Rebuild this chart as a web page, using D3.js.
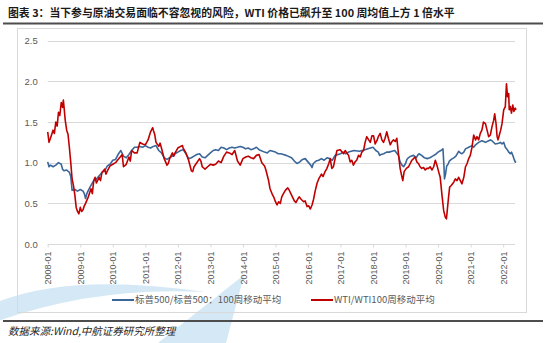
<!DOCTYPE html>
<html>
<head>
<meta charset="utf-8">
<script src="https://cdn.jsdelivr.net/npm/d3@7/dist/d3.min.js"></script>
<style>
  html, body { margin: 0; padding: 0; background: #ffffff; }
  svg { display: block; }
</style>
</head>
<body>
<svg id="chart" width="550" height="343"></svg>
<script>
// WTI / WTI 100-week moving average
const wtiDates = [
  "2008-01-01","2008-01-16","2008-02-01","2008-03-01","2008-03-16","2008-04-01","2008-04-16","2008-05-01","2008-05-16","2008-06-01",
  "2008-06-16","2008-06-25","2008-07-01","2008-07-16","2008-08-01","2008-08-16","2008-09-01","2008-09-16","2008-10-01","2008-10-16",
  "2008-11-01","2008-11-16","2008-12-01","2008-12-16","2009-01-01","2009-01-16","2009-02-01","2009-02-15","2009-03-01","2009-04-01",
  "2009-05-01","2009-05-16","2009-06-01","2009-06-16","2009-07-01","2009-08-01","2009-08-16","2009-09-01","2009-10-01","2009-10-16",
  "2009-11-01","2009-12-01","2010-01-01","2010-02-01","2010-03-01","2010-04-01","2010-04-16","2010-05-01","2010-06-01","2010-07-01",
  "2010-07-16","2010-08-01","2010-09-01","2010-10-01","2010-11-01","2010-12-01","2011-01-01","2011-02-01","2011-03-01","2011-03-25",
  "2011-04-01","2011-04-16","2011-05-01","2011-06-01","2011-06-16","2011-07-01","2011-08-01","2011-09-01","2011-09-16","2011-10-01",
  "2011-11-01","2011-11-16","2011-12-01","2012-01-01","2012-02-01","2012-02-22","2012-03-01","2012-04-01","2012-05-01","2012-06-01",
  "2012-06-16","2012-07-01","2012-08-01","2012-09-01","2012-09-16","2012-10-01","2012-11-01","2012-12-01","2013-01-01","2013-02-01",
  "2013-03-01","2013-04-01","2013-05-01","2013-06-01","2013-07-01","2013-08-01","2013-09-01","2013-10-01","2013-11-01","2013-12-01",
  "2014-01-01","2014-02-01","2014-03-01","2014-04-01","2014-05-01","2014-06-01","2014-07-01","2014-08-01","2014-09-01","2014-09-16",
  "2014-10-16","2014-11-01","2014-12-01","2014-12-16","2015-01-01","2015-01-19","2015-02-07","2015-02-25","2015-03-13","2015-04-01",
  "2015-04-22","2015-05-19","2015-06-01","2015-07-01","2015-08-01","2015-08-19","2015-09-07","2015-09-25","2015-10-16","2015-11-13",
  "2015-12-01","2015-12-22","2016-01-10","2016-01-28","2016-02-16","2016-03-04","2016-03-22","2016-04-13","2016-05-01","2016-06-01",
  "2016-06-19","2016-07-07","2016-08-01","2016-08-22","2016-09-07","2016-09-25","2016-10-13","2016-11-01","2016-11-22","2016-12-28",
  "2017-02-04","2017-02-22","2017-04-01","2017-04-19","2017-05-07","2017-05-25","2017-06-13","2017-07-01","2017-07-22","2017-08-10",
  "2017-08-28","2017-09-16","2017-10-04","2017-10-22","2017-11-13","2017-12-01","2017-12-19","2018-01-07","2018-01-25","2018-02-13",
  "2018-03-01","2018-03-22","2018-04-10","2018-04-28","2018-05-16","2018-06-04","2018-06-22","2018-07-13","2018-08-01","2018-08-19",
  "2018-09-07","2018-09-25","2018-10-13","2018-11-01","2018-11-22","2018-12-01","2018-12-16","2019-01-10","2019-02-04","2019-02-22",
  "2019-03-13","2019-04-01","2019-04-19","2019-05-07","2019-05-25","2019-06-13","2019-07-01","2019-07-22","2019-08-10","2019-08-28",
  "2019-09-16","2019-10-04","2019-10-25","2019-11-13","2019-12-01","2019-12-19","2020-01-07","2020-01-25","2020-02-16","2020-03-04",
  "2020-03-22","2020-04-04","2020-04-13","2020-04-28","2020-05-10","2020-05-28","2020-06-25","2020-07-13","2020-08-01","2020-08-19",
  "2020-09-07","2020-09-25","2020-10-16","2020-11-04","2020-11-22","2020-12-10","2020-12-28","2021-01-16","2021-02-04","2021-02-25",
  "2021-03-13","2021-04-01","2021-04-19","2021-05-07","2021-05-25","2021-06-16","2021-07-04","2021-07-22","2021-08-10","2021-08-28",
  "2021-09-16","2021-09-28","2021-10-13","2021-10-25","2021-11-04","2021-11-19","2021-12-04","2021-12-19","2022-01-07","2022-01-25",
  "2022-02-07","2022-02-19","2022-03-04","2022-03-10","2022-03-22","2022-04-04","2022-04-19","2022-05-01","2022-05-16","2022-05-25"
];
const wtiRatio = [
  1.38,1.25,1.30,1.40,1.36,1.50,1.45,1.62,1.58,1.74,
  1.68,1.77,1.70,1.52,1.40,1.35,1.18,1.00,0.80,0.72,
  0.60,0.45,0.40,0.37,0.45,0.40,0.42,0.47,0.50,0.58,
  0.68,0.62,0.78,0.82,0.75,0.82,0.78,0.88,0.92,0.86,
  0.90,0.96,0.98,1.00,1.04,1.08,1.10,0.95,0.98,1.07,
  1.02,1.15,1.12,1.12,1.25,1.23,1.22,1.28,1.38,1.43,
  1.40,1.35,1.25,1.20,1.24,1.18,1.05,0.97,0.99,1.05,
  1.12,1.08,1.12,1.18,1.20,1.21,1.18,1.12,1.03,0.90,
  0.89,0.95,1.00,1.05,1.02,0.95,0.92,0.95,0.98,0.97,
  0.98,1.02,1.00,1.08,1.13,1.12,1.10,1.15,1.02,0.97,
  1.05,1.07,1.08,1.06,1.05,1.09,1.10,1.00,0.96,0.91,
  0.78,0.68,0.60,0.57,0.52,0.48,0.52,0.50,0.58,0.62,
  0.66,0.69,0.67,0.60,0.53,0.51,0.55,0.58,0.55,0.52,
  0.53,0.46,0.47,0.43,0.48,0.55,0.65,0.75,0.80,0.86,
  0.83,0.88,0.93,0.99,1.05,0.93,0.95,1.05,1.15,1.16,
  1.11,1.15,1.09,1.01,1.03,0.97,1.01,1.03,1.09,1.07,
  1.13,1.15,1.25,1.32,1.28,1.25,1.33,1.33,1.23,1.27,
  1.32,1.36,1.28,1.25,1.30,1.38,1.30,1.22,1.26,1.28,
  1.26,1.30,1.11,0.93,0.82,0.78,0.89,0.93,0.95,0.99,
  1.03,1.05,1.07,1.01,0.99,0.95,0.93,0.94,0.91,0.93,
  0.93,0.95,0.91,0.95,1.03,0.97,0.89,0.82,0.58,0.41,
  0.33,0.31,0.41,0.58,0.70,0.72,0.76,0.80,0.78,0.82,
  0.78,0.74,0.82,0.95,0.99,1.05,1.09,1.19,1.34,1.28,
  1.32,1.28,1.36,1.40,1.50,1.48,1.40,1.32,1.34,1.44,
  1.52,1.60,1.48,1.32,1.28,1.34,1.40,1.48,1.65,1.69,
  1.97,1.81,1.85,1.65,1.69,1.61,1.71,1.63,1.67,1.65
];

// S&P 500 / S&P 500 100-week moving average
const spxDates = [
  "2008-01-01","2008-01-16","2008-02-01","2008-03-01","2008-04-01","2008-05-01","2008-06-01","2008-06-16","2008-07-01","2008-08-01",
  "2008-09-01","2008-09-16","2008-10-01","2008-11-01","2008-12-01","2009-01-01","2009-02-01","2009-02-15","2009-03-01","2009-03-16",
  "2009-04-01","2009-05-01","2009-06-01","2009-07-01","2009-08-01","2009-09-01","2009-10-01","2009-11-01","2009-12-01","2010-01-01",
  "2010-02-01","2010-03-01","2010-04-01","2010-05-01","2010-06-01","2010-07-01","2010-08-01","2010-09-01","2010-10-01","2010-11-01",
  "2010-12-01","2011-01-01","2011-02-01","2011-03-01","2011-04-01","2011-05-01","2011-06-01","2011-07-01","2011-08-01","2011-09-01",
  "2011-10-01","2011-11-01","2011-12-01","2012-01-01","2012-02-01","2012-03-01","2012-04-01","2012-05-01","2012-06-01","2012-07-01",
  "2012-08-01","2012-09-01","2012-10-01","2012-11-01","2012-12-01","2013-01-01","2013-02-01","2013-03-01","2013-04-01","2013-05-01",
  "2013-06-01","2013-07-01","2013-08-01","2013-09-01","2013-10-01","2013-11-01","2013-12-01","2014-01-01","2014-02-01","2014-03-01",
  "2014-04-01","2014-05-01","2014-06-01","2014-07-01","2014-09-01","2014-10-01","2014-11-01","2015-01-01","2015-02-01","2015-03-01",
  "2015-04-01","2015-05-01","2015-07-01","2015-08-01","2015-09-01","2015-10-01","2015-11-01","2015-12-01","2016-01-01","2016-02-01",
  "2016-02-16","2016-03-01","2016-04-01","2016-05-01","2016-06-01","2016-07-01","2016-08-01","2016-09-01","2016-10-01","2016-11-01",
  "2017-01-01","2017-02-01","2017-03-01","2017-04-01","2017-06-01","2017-08-01","2017-09-01","2017-10-01","2017-12-01","2018-01-01",
  "2018-02-01","2018-03-01","2018-03-16","2018-04-01","2018-05-01","2018-06-01","2018-07-01","2018-08-01","2018-09-01","2018-10-13",
  "2018-11-01","2018-11-22","2018-12-10","2019-01-01","2019-01-16","2019-02-01","2019-03-01","2019-04-01","2019-05-01","2019-05-16",
  "2019-06-01","2019-07-01","2019-08-01","2019-09-01","2019-10-01","2019-11-01","2019-12-01","2020-01-01","2020-02-01","2020-02-16",
  "2020-02-25","2020-03-07","2020-03-13","2020-03-25","2020-04-07","2020-04-22","2020-05-07","2020-05-28","2020-06-25","2020-07-19",
  "2020-08-19","2020-09-07","2020-09-25","2020-10-16","2020-11-04","2020-12-10","2021-01-16","2021-02-04","2021-02-25","2021-04-01",
  "2021-05-07","2021-06-16","2021-07-22","2021-08-10","2021-08-28","2021-10-04","2021-11-13","2021-12-01","2021-12-19","2022-01-07",
  "2022-01-25","2022-02-16","2022-03-04","2022-03-22","2022-04-04","2022-04-19","2022-05-01","2022-05-16","2022-05-25"
];
const spxRatio = [
  1.01,0.95,0.97,0.95,0.97,1.00,0.98,0.92,0.90,0.91,
  0.88,0.83,0.66,0.67,0.65,0.67,0.65,0.62,0.56,0.62,
  0.66,0.72,0.78,0.80,0.84,0.88,0.90,0.96,0.98,1.03,
  1.04,1.10,1.15,1.08,1.06,1.10,1.15,1.19,1.19,1.20,
  1.19,1.21,1.19,1.18,1.20,1.21,1.15,1.12,1.06,1.04,
  1.06,1.08,1.11,1.13,1.15,1.16,1.11,1.05,1.06,1.08,
  1.10,1.11,1.07,1.06,1.09,1.12,1.15,1.16,1.15,1.19,
  1.18,1.16,1.18,1.19,1.18,1.19,1.20,1.19,1.17,1.18,
  1.16,1.17,1.19,1.16,1.13,1.12,1.15,1.13,1.11,1.11,
  1.10,1.09,1.06,1.02,0.99,1.01,1.04,1.05,1.01,0.97,
  0.94,0.99,1.02,1.03,1.05,1.03,1.06,1.05,1.03,1.09,
  1.11,1.13,1.11,1.13,1.15,1.14,1.15,1.16,1.18,1.19,
  1.15,1.13,1.09,1.10,1.11,1.13,1.13,1.14,1.15,1.09,
  1.01,0.97,0.95,0.99,1.04,1.06,1.08,1.09,1.06,1.09,
  1.11,1.09,1.06,1.05,1.06,1.08,1.10,1.13,1.15,1.16,
  1.17,0.96,0.80,0.86,0.96,0.98,1.02,1.04,1.06,1.08,
  1.14,1.12,1.11,1.13,1.17,1.19,1.21,1.19,1.22,1.25,
  1.27,1.25,1.27,1.28,1.27,1.23,1.24,1.25,1.23,1.25,
  1.19,1.16,1.13,1.11,1.13,1.09,1.05,1.01,1.00
];

const yTicks = [0, 0.5, 1.0, 1.5, 2.0, 2.5];
const seriesNames = ["标普500/标普500：100周移动平均", "WTI/WTI100周移动平均"];
const seriesColors = ["#3B6699", "#C00000"];

const titleText = "图表 3：当下参与原油交易面临不容忽视的风险，WTI 价格已飙升至 100 周均值上方 1 倍水平";
const sourceText = "数据来源:Wind,中航证券研究所整理";

const parse = d3.timeParse("%Y-%m-%d");
const spx = spxDates.map((d, i) => ({ date: parse(d), value: spxRatio[i] }));
const wti = wtiDates.map((d, i) => ({ date: parse(d), value: wtiRatio[i] }));

const svg = d3.select("#chart");
const cjk = "'Noto Sans CJK SC', 'Noto Sans', sans-serif";
const latin = "'Liberation Sans', Arial, sans-serif";

// faint brand swoosh in the lower-left corner
const swoosh = svg.append("g").attr("fill", "#d4e8f6");
swoosh.append("path").attr("d", "M-5,303 Q70,272 205,292 Q95,286 -5,322 Z");
swoosh.append("path").attr("d", "M158,343 L244,275 L226,343 Z");

// title and rules
svg.append("text")
  .attr("x", 8).attr("y", 17)
  .attr("font-family", cjk).attr("font-weight", "bold")
  .attr("font-size", 11).attr("fill", "#1a1a1a")
  .text(titleText)
  .each(function () {
    const w = this.getComputedTextLength();
    const target = 447;
    d3.select(this).attr("font-size", 11 * target / w);
  });
svg.append("line").attr("x1", 3).attr("x2", 543).attr("y1", 23.5).attr("y2", 23.5)
  .attr("stroke", "#4d4d4d").attr("stroke-width", 2);
svg.append("line").attr("x1", 3).attr("x2", 543).attr("y1", 321).attr("y2", 321)
  .attr("stroke", "#4d4d4d").attr("stroke-width", 2);

// chart frame
svg.append("rect").attr("x", 17.5).attr("y", 28.5).attr("width", 509).attr("height", 284)
  .attr("fill", "none").attr("stroke", "#d9d9d9").attr("stroke-width", 1);

const x = d3.scaleTime()
  .domain([parse("2008-01-01"), parse("2022-05-25")])
  .range([47.7, 516]);
const y = d3.scaleLinear().domain([0, 2.5]).range([244, 40.7]);

// horizontal gridlines
svg.append("g").selectAll("line").data(yTicks.slice(1)).join("line")
  .attr("x1", 47.7).attr("x2", 515)
  .attr("y1", d => Math.round(y(d)) + 0.5).attr("y2", d => Math.round(y(d)) + 0.5)
  .attr("stroke", "#d9d9d9").attr("stroke-width", 1);

// y axis labels
const yAxis = d3.axisLeft(y).tickValues(yTicks).tickFormat(d3.format(".1f")).tickSize(0).tickPadding(10);
const gy = svg.append("g").attr("transform", "translate(47.7,0)").call(yAxis);
gy.select(".domain").remove();
gy.selectAll("text").attr("font-family", latin).attr("font-size", 9.5).attr("fill", "#595959");

// x axis
const xAxis = d3.axisBottom(x)
  .ticks(d3.timeYear.every(1))
  .tickFormat(d3.timeFormat("%Y-%m"))
  .tickSize(3);
const gx = svg.append("g").attr("transform", "translate(0,244.5)").call(xAxis);
gx.select(".domain").attr("stroke", "#d9d9d9").attr("d", "M47.7,0H515");
gx.selectAll(".tick line").attr("stroke", "#d9d9d9");
gx.selectAll("text")
  .attr("font-family", latin).attr("font-size", 9).attr("fill", "#595959")
  .attr("transform", "rotate(-90)")
  .attr("text-anchor", "end")
  .attr("x", -7).attr("y", 0).attr("dy", "0.35em");

// series lines
const line = d3.line().x(d => x(d.date)).y(d => y(d.value));
svg.append("path").datum(spx).attr("d", line)
  .attr("fill", "none").attr("stroke", seriesColors[0]).attr("stroke-width", 1.6)
  .attr("stroke-linejoin", "round");
svg.append("path").datum(wti).attr("d", line)
  .attr("fill", "none").attr("stroke", seriesColors[1]).attr("stroke-width", 1.6)
  .attr("stroke-linejoin", "round");

// legend
const legendItems = [
  { name: seriesNames[0], color: seriesColors[0], x: 112 },
  { name: seriesNames[1], color: seriesColors[1], x: 311 }
];
const lg = svg.append("g").selectAll("g").data(legendItems).join("g")
  .attr("transform", d => `translate(${d.x},300)`);
lg.append("line").attr("x1", 0).attr("x2", 22).attr("y1", 0).attr("y2", 0)
  .attr("stroke", d => d.color).attr("stroke-width", 2);
lg.append("text").attr("x", 23).attr("y", 0).attr("dy", "0.35em")
  .attr("font-family", cjk).attr("font-size", 9.5).attr("fill", "#595959")
  .text(d => d.name);

// source note
svg.append("text")
  .attr("x", 8).attr("y", 335)
  .attr("font-family", cjk).attr("font-style", "italic")
  .attr("font-size", 10.5).attr("fill", "#262626")
  .text(sourceText);
</script>
</body>
</html>
